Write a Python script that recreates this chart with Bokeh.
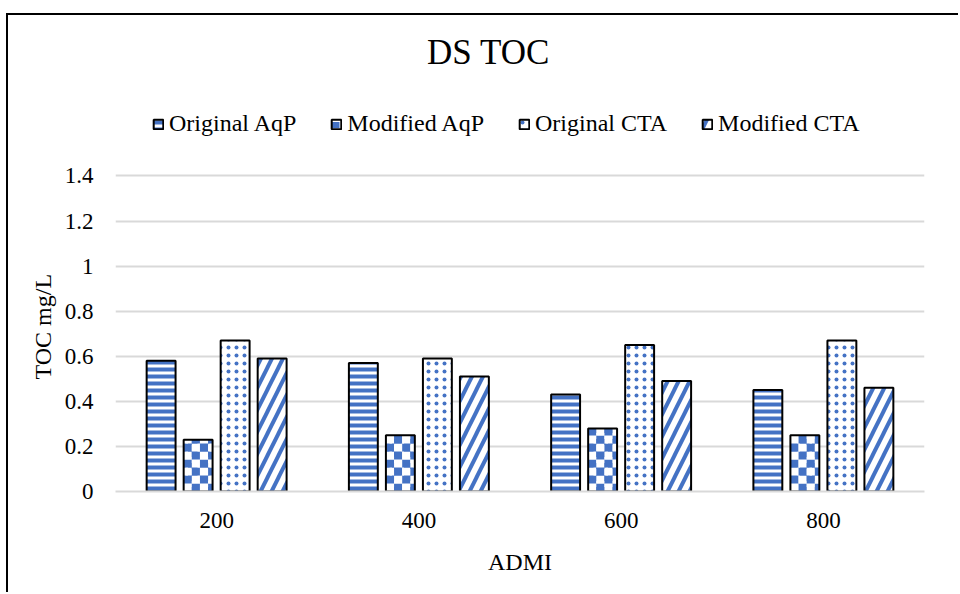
import math
from bokeh.plotting import figure
from bokeh.models import (ColumnDataSource, FactorRange, Range1d, FixedTicker,
                          NumeralTickFormatter, Legend, LegendItem, Label, Title)
from bokeh.transform import dodge
from bokeh.embed import file_html
from bokeh.resources import INLINE

categories = ["200", "400", "600", "800"]
original_aqp = [0.58, 0.57, 0.43, 0.45]
modified_aqp = [0.23, 0.25, 0.28, 0.25]
original_cta = [0.67, 0.59, 0.65, 0.67]
modified_cta = [0.59, 0.51, 0.49, 0.46]
series_names = ["Original AqP", "Modified AqP", "Original CTA", "Modified CTA"]
y_ticks = [0, 0.2, 0.4, 0.6, 0.8, 1.0, 1.2, 1.4]

src = ColumnDataSource(dict(cat=categories, oa=original_aqp, ma=modified_aqp,
                            oc=original_cta, mc=modified_cta))

FONT = "Liberation Serif"
BLUE = "#4472C4"
BAR_W = 0.143
offsets = [-0.2745, -0.0915, 0.0915, 0.2745]

# y-range top chosen so that 1.4 sits where the reference's top gridline is,
# leaving the upper part of the frame for title and legend
p = figure(x_range=FactorRange(*categories, range_padding=0),
           y_range=Range1d(0, 2.112),
           width=952, height=579, output_backend="svg", toolbar_location=None,
           min_border_left=107, min_border_right=36, min_border_bottom=103,
           min_border_top=0)
p.margin = (13, 0, 0, 6)
p.styles = {"border-top": "2px solid black", "border-left": "2px solid black"}
p.title.visible = False

common = dict(source=src, width=BAR_W, fill_color="white", line_color="black", line_width=2)

r_oa = p.vbar(x=dodge("cat", offsets[0], range=p.x_range), top="oa",
              hatch_pattern="horizontal_line", hatch_color=BLUE, hatch_scale=7,
              hatch_weight=4, **common)

# Modified AqP: white bar, checkerboard cells derived from the values, outline on top
r_ma_fill = p.vbar(x=dodge("cat", offsets[1], range=p.x_range), top="ma", source=src,
                   width=BAR_W, fill_color="white", line_color=None,
                   hatch_pattern="horizontal_dash", hatch_color=BLUE,
                   hatch_scale=12, hatch_weight=6)
cell_w = BAR_W / 3.55
cell_h = 0.0355
cl, cr, cb, ct, cc = [], [], [], [], []
for i, v in enumerate(modified_aqp):
    left = i + 0.5 + offsets[1] - BAR_W / 2
    right = left + BAR_W
    ncol = math.ceil(BAR_W / cell_w - 1e-9)
    nrow = math.ceil(v / cell_h - 1e-9)
    for rr in range(nrow):
        for c in range(ncol):
            l = left + c * cell_w
            b = rr * cell_h
            cl.append(l)
            cr.append(min(l + cell_w, right))
            cb.append(b)
            ct.append(min(b + cell_h, v))
            cc.append(BLUE if (rr + c) % 2 == 1 else "white")
p.quad(left=cl, right=cr, bottom=cb, top=ct, fill_color=cc, line_color=None)
r_ma_line = p.vbar(x=dodge("cat", offsets[1], range=p.x_range), top="ma", source=src,
                   width=BAR_W, fill_color=None, line_color="black", line_width=2)

r_oc = p.vbar(x=dodge("cat", offsets[2], range=p.x_range), top="oc",
              hatch_pattern="dot", hatch_color=BLUE, hatch_scale=8, hatch_weight=2,
              **common)
r_mc = p.vbar(x=dodge("cat", offsets[3], range=p.x_range), top="mc",
              hatch_pattern="right_diagonal_line", hatch_color=BLUE, hatch_scale=22,
              hatch_weight=4, **common)

legend_renderers = [[r_oa], [r_ma_fill, r_ma_line], [r_oc], [r_mc]]
legend = Legend(items=[LegendItem(label=n, renderers=rs) for n, rs in zip(series_names, legend_renderers)],
                orientation="horizontal", location=(37, 354),
                label_text_font=FONT, label_text_font_size="24px",
                label_text_color="black",
                glyph_width=12, glyph_height=12, spacing=34, label_standoff=5,
                border_line_color=None, background_fill_alpha=0,
                padding=0, margin=0)
p.add_layout(legend, "center")

p.add_layout(Label(x=373, y=439, x_units="screen", y_units="screen", text="DS TOC",
                   text_font=FONT, text_font_size="35px", text_align="center",
                   text_baseline="middle", text_color="black"))

ylab = Title(text="TOC mg/L", align="left", offset=112, standoff=11,
             text_font=FONT, text_font_size="24px", text_font_style="normal",
             text_color="black")
p.add_layout(ylab, "left")

p.yaxis.ticker = FixedTicker(ticks=y_ticks)
p.yaxis.formatter = NumeralTickFormatter(format="0.[0]")
p.yaxis.axis_line_color = None
p.yaxis.major_tick_line_color = None
p.yaxis.minor_tick_line_color = None
p.yaxis.major_label_text_font = FONT
p.yaxis.major_label_text_font_size = "23px"
p.yaxis.major_label_text_color = "black"
p.yaxis.major_label_standoff = 16

p.xaxis.axis_line_color = "#d9d9d9"
p.xaxis.axis_line_width = 2
p.xaxis.major_tick_line_color = None
p.xaxis.minor_tick_line_color = None
p.xaxis.major_label_text_font = FONT
p.xaxis.major_label_text_font_size = "23px"
p.xaxis.major_label_text_color = "black"
p.xaxis.major_label_standoff = 15
p.xaxis.axis_label = "ADMI"
p.xaxis.axis_label_text_font = FONT
p.xaxis.axis_label_text_font_size = "24px"
p.xaxis.axis_label_text_font_style = "normal"
p.xaxis.axis_label_text_color = "black"
p.xaxis.axis_label_standoff = 18

p.xgrid.grid_line_color = None
p.ygrid.grid_line_color = "#d9d9d9"
p.ygrid.grid_line_width = 2
p.outline_line_color = None

open("out.html", "w").write(file_html(p, INLINE))
